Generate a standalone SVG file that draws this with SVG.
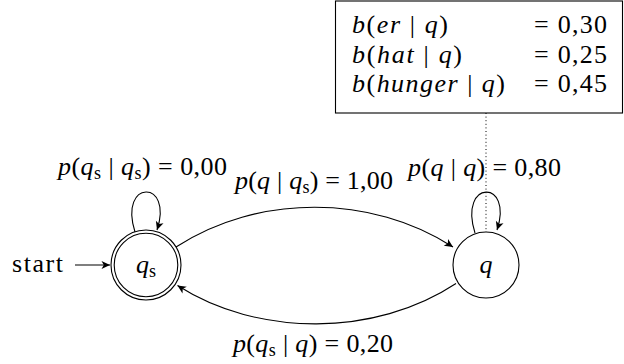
<svg xmlns="http://www.w3.org/2000/svg" width="624" height="364" viewBox="0 0 624 364" font-family="Liberation Serif, DejaVu Serif, serif">
<style>
text{font-size:26px;fill:#000}
.i{font-style:italic}
.sub{font-size:18px}
.edge{fill:none;stroke:#000;stroke-width:1.1}
.node{fill:#fff;stroke:#000;stroke-width:1.1}
</style>
<defs>
<marker id="ah" viewBox="-10 -6 12 12" refX="0" refY="0" markerWidth="12" markerHeight="12" markerUnits="userSpaceOnUse" orient="auto">
<path d="M0,0 L-8.5,-4 L-6.2,0 L-8.5,4 Z" fill="#000"/>
</marker>
</defs>
<g id="obs-box">
<rect x="335.5" y="1" width="287" height="112" fill="#fff" stroke="#000" stroke-width="1.1"/>
<text x="352" y="33" textLength="96" lengthAdjust="spacing"><tspan class="i">b</tspan>(<tspan class="i">er</tspan> | <tspan class="i">q</tspan>)</text>
<text x="352" y="63" textLength="110" lengthAdjust="spacing"><tspan class="i">b</tspan>(<tspan class="i">hat</tspan> | <tspan class="i">q</tspan>)</text>
<text x="352" y="92" textLength="153" lengthAdjust="spacing"><tspan class="i">b</tspan>(<tspan class="i">hunger</tspan> | <tspan class="i">q</tspan>)</text>
<text x="534" y="33" textLength="73" lengthAdjust="spacing">= 0,30</text>
<text x="534" y="63" textLength="73" lengthAdjust="spacing">= 0,25</text>
<text x="534" y="92" textLength="73" lengthAdjust="spacing">= 0,45</text>
</g>
<g id="connectors">
<line x1="486" y1="113" x2="486" y2="232" stroke="#000" stroke-width="1" stroke-dasharray="1 2.6"/>
<line class="edge" x1="75" y1="265" x2="110" y2="265" marker-end="url(#ah)"/>
<path class="edge" d="M135,232 C118,179 174,179 157,230" marker-end="url(#ah)"/>
<path class="edge" d="M475,233 C458,179 514,179 497,230" marker-end="url(#ah)"/>
<path class="edge" d="M176,247 C257,194 372,194 453,247" marker-end="url(#ah)"/>
<path class="edge" d="M456,283.5 C375,337 258,337 177.5,285.5" marker-end="url(#ah)"/>
<text x="12" y="272" textLength="51" lengthAdjust="spacing">start</text>
<text x="58" y="175" textLength="169" lengthAdjust="spacing"><tspan class="i">p</tspan>(<tspan class="i">q</tspan><tspan class="sub" dy="4">s</tspan><tspan dy="-4"> | </tspan><tspan class="i">q</tspan><tspan class="sub" dy="4">s</tspan><tspan dy="-4">) = 0,00</tspan></text>
<text x="235" y="189" textLength="158" lengthAdjust="spacing"><tspan class="i">p</tspan>(<tspan class="i">q</tspan> | <tspan class="i">q</tspan><tspan class="sub" dy="4">s</tspan><tspan dy="-4">) = 1,00</tspan></text>
<text x="408" y="176" textLength="153" lengthAdjust="spacing"><tspan class="i">p</tspan>(<tspan class="i">q</tspan> | <tspan class="i">q</tspan>) = 0,80</text>
<text x="233" y="352" textLength="160" lengthAdjust="spacing"><tspan class="i">p</tspan>(<tspan class="i">q</tspan><tspan class="sub" dy="4">s</tspan><tspan dy="-4"> | </tspan><tspan class="i">q</tspan>) = 0,20</text>
</g>
<g id="node-qs">
<circle class="node" cx="146" cy="265" r="35"/>
<circle class="node" cx="146" cy="265" r="31.8"/>
<text x="146" y="273" text-anchor="middle"><tspan class="i">q</tspan><tspan class="sub" dy="4">s</tspan></text>
</g>
<g id="node-q">
<circle class="node" cx="486" cy="265" r="33"/>
<text x="486" y="273" text-anchor="middle" class="i">q</text>
</g>
</svg>
